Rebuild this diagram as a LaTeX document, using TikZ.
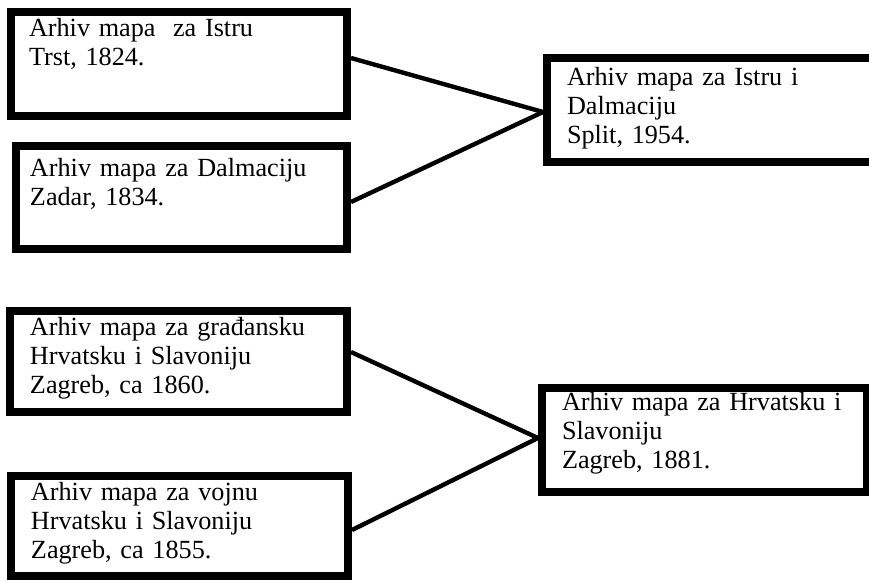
\documentclass[tikz,border=0pt]{standalone}
\usepackage{fontspec}
\setmainfont{Liberation Serif}

\tikzset{
  archive/.style={draw, line width=4pt, anchor=north west, align=left,
    inner xsep=10pt, inner ysep=0pt, font=\fontsize{13.1}{14.6}\selectfont},
  link/.style={line width=2.2pt}
}

\begin{document}
\begin{tikzpicture}[x=0.5pt, y=-0.5pt]
  \useasboundingbox (0,0) rectangle (869,580);

  \node[archive, inner xsep=9pt, text width=150pt, text height=12pt, text depth=40pt] (istra) at (7,8)
    {Arhiv mapa\ \ za Istru\\Trst, 1824.};
  \node[archive, inner xsep=7pt, text width=151.5pt, text height=15pt, text depth=36.5pt] (dalm) at (12,142)
    {Arhiv mapa za Dalmaciju\\Zadar, 1834.};
  \node[archive, text width=144pt, text height=13.5pt, text depth=38.5pt] (split) at (543,54)
    {Arhiv mapa za Istru~i\\Dalmaciju\\Split, 1954.};

  \node[archive, text width=148.5pt, text height=12pt, text depth=38.5pt] (civil) at (6,307)
    {Arhiv mapa za građansku\\Hrvatsku i Slavoniju\\Zagreb, ca 1860.};
  \node[archive, text width=148.5pt, text height=12pt, text depth=38pt] (vojna) at (7,472)
    {Arhiv mapa za vojnu\\Hrvatsku i Slavoniju\\Zagreb, ca 1855.};
  \node[archive, text width=142.5pt, text height=11pt, text depth=41pt] (zagreb) at (538,384)
    {Arhiv mapa za Hrvatsku~i\\Slavoniju\\Zagreb, 1881.};

  \draw[link] ([yshift=3pt]istra.east) -- ([yshift=-1pt]split.west);
  \draw[link] ([yshift=-2.25pt]dalm.east) -- ([yshift=-1pt]split.west);
  \draw[link] ([yshift=4.75pt]civil.east) -- ([yshift=1pt]zagreb.west);
  \draw[link] ([yshift=-2pt]vojna.east) -- ([yshift=1pt]zagreb.west);
\end{tikzpicture}
\end{document}
